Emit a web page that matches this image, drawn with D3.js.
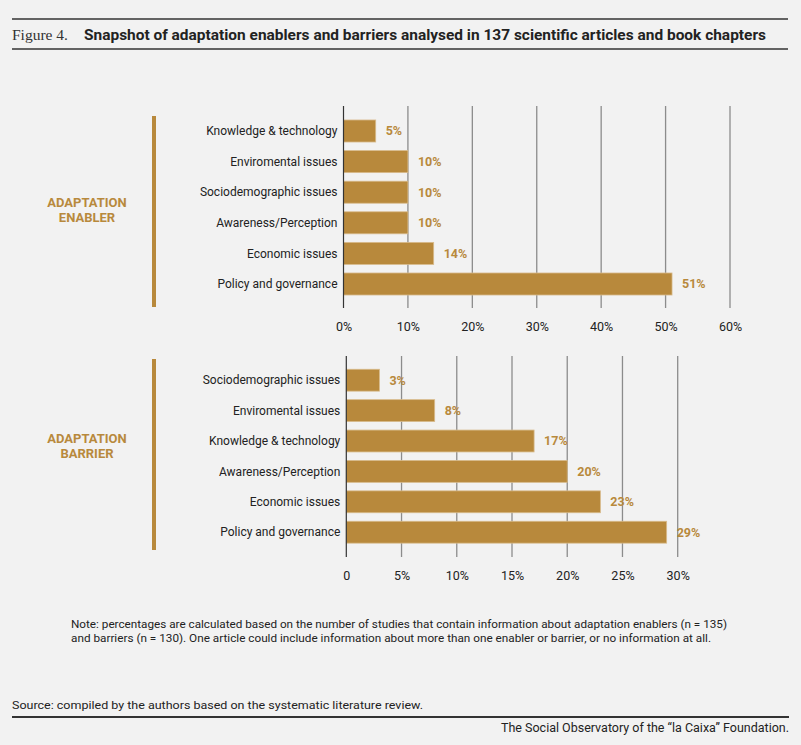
<!DOCTYPE html>
<html>
<head>
<meta charset="utf-8">
<script src="https://cdn.jsdelivr.net/npm/d3@7"></script>
<style>
  body { margin: 0; background: #f2f2f2; }
  svg { display: block; }
  text { font-family: Roboto, "Liberation Sans", sans-serif; }
</style>
</head>
<body>
<svg width="801" height="745"></svg>
<script>
// enablers (n = 135)
const enablerCategories = ['Knowledge & technology', 'Enviromental issues', 'Sociodemographic issues',
  'Awareness/Perception', 'Economic issues', 'Policy and governance'];
const enablerValues = [5, 10, 10, 10, 14, 51];
const enablerTicks = [0, 10, 20, 30, 40, 50, 60];

// barriers (n = 130)
const barrierCategories = ['Sociodemographic issues', 'Enviromental issues', 'Knowledge & technology',
  'Awareness/Perception', 'Economic issues', 'Policy and governance'];
const barrierValues = [3, 8, 17, 20, 23, 29];
const barrierTicks = [0, 5, 10, 15, 20, 25, 30];

const gold = '#b8893c';
const ink = '#222';

const svg = d3.select('svg');
const width = +svg.attr('width');

svg.append('rect').attr('width', width).attr('height', 745).attr('fill', '#f2f2f2');

// header
svg.append('line').attr('x1', 12).attr('x2', 788).attr('y1', 19).attr('y2', 19)
  .attr('stroke', '#333').attr('stroke-width', 1.6);
svg.append('line').attr('x1', 12).attr('x2', 788).attr('y1', 49).attr('y2', 49)
  .attr('stroke', '#333').attr('stroke-width', 1.6);
svg.append('text').attr('x', 12).attr('y', 40)
  .style('font-family', '"Liberation Serif", "DejaVu Serif", serif')
  .attr('font-size', 15).attr('fill', '#333')
  .attr('textLength', 56).attr('lengthAdjust', 'spacingAndGlyphs')
  .text('Figure 4.');
svg.append('text').attr('x', 84).attr('y', 40)
  .attr('font-size', 14).attr('font-weight', 'bold').attr('fill', ink)
  .attr('textLength', 682).attr('lengthAdjust', 'spacingAndGlyphs')
  .text('Snapshot of adaptation enablers and barriers analysed in 137 scientific articles and book chapters');

function drawPanel(opts) {
  const { categories, values, ticks, x0, x1, y0, y1, gridTop, gridBottom, fmt, title, sideBar, titleY } = opts;

  const x = d3.scaleLinear().domain([0, d3.max(ticks)]).range([x0, x1]);
  const y = d3.scaleBand().domain(categories).range([y0, y1])
    .paddingInner(0.28).paddingOuter(0.14);

  const g = svg.append('g');

  // gridlines
  g.selectAll('line.grid')
    .data(ticks.slice(1))
    .join('line')
    .attr('class', 'grid')
    .attr('x1', d => x(d)).attr('x2', d => x(d))
    .attr('y1', gridTop).attr('y2', gridBottom)
    .attr('stroke', '#8c8c8c').attr('stroke-width', 1.3);

  // bars
  g.selectAll('rect.bar')
    .data(values)
    .join('rect')
    .attr('class', 'bar')
    .attr('x', x(0))
    .attr('y', (d, i) => y(categories[i]))
    .attr('width', d => x(d) - x(0))
    .attr('height', y.bandwidth())
    .attr('fill', gold)
    .attr('stroke', '#d8bb8c').attr('stroke-width', 0.8);

  // zero axis
  g.append('line')
    .attr('x1', x(0)).attr('x2', x(0))
    .attr('y1', gridTop).attr('y2', gridBottom)
    .attr('stroke', '#333').attr('stroke-width', 1.2);

  // value labels
  g.selectAll('text.val')
    .data(values)
    .join('text')
    .attr('class', 'val')
    .attr('x', d => x(d) + 10)
    .attr('y', (d, i) => y(categories[i]) + y.bandwidth() / 2)
    .attr('dy', '0.35em')
    .attr('font-size', 12.5).attr('font-weight', 'bold')
    .attr('fill', gold)
    .text(d => d + '%');

  // category labels
  g.selectAll('text.cat')
    .data(categories)
    .join('text')
    .attr('class', 'cat')
    .attr('x', x(0) - 6)
    .attr('y', d => y(d) + y.bandwidth() / 2)
    .attr('dy', '0.35em')
    .attr('text-anchor', 'end')
    .attr('font-size', 12).attr('fill', ink)
    .text(d => d);

  // tick labels
  const axis = d3.axisBottom(x).tickValues(ticks).tickSize(0).tickPadding(0).tickFormat(fmt);
  const ax = g.append('g')
    .attr('transform', `translate(0,${gridBottom + 14})`)
    .call(axis);
  ax.select('.domain').remove();
  ax.selectAll('text')
    .attr('font-size', 12.5).attr('fill', ink)
    .style('font-family', 'Roboto, "Liberation Sans", sans-serif');

  // side marker
  g.append('rect')
    .attr('x', 152).attr('y', sideBar[0])
    .attr('width', 4).attr('height', sideBar[1] - sideBar[0])
    .attr('fill', gold);

  const t = g.append('text')
    .attr('x', 87).attr('y', titleY)
    .attr('text-anchor', 'middle')
    .attr('font-size', 13).attr('font-weight', 'bold')
    .attr('fill', gold);
  title.forEach((line, i) => {
    t.append('tspan').attr('x', 87).attr('dy', i === 0 ? 0 : 14.5).text(line);
  });
}

drawPanel({
  categories: enablerCategories,
  values: enablerValues,
  ticks: enablerTicks,
  x0: 343.5, x1: 730,
  y0: 115.7, y1: 299.3,
  gridTop: 106, gridBottom: 308,
  fmt: d => d + '%',
  title: ['ADAPTATION', 'ENABLER'],
  titleY: 207,
  sideBar: [116, 307]
});

drawPanel({
  categories: barrierCategories,
  values: barrierValues,
  ticks: barrierTicks,
  x0: 346.3, x1: 677.7,
  y0: 365, y1: 547.4,
  gridTop: 356, gridBottom: 557,
  fmt: d => d === 0 ? '0' : d + '%',
  title: ['ADAPTATION', 'BARRIER'],
  titleY: 443,
  sideBar: [359, 550]
});

// notes
svg.append('text').attr('x', 71).attr('y', 628)
  .attr('font-size', 11.5).attr('fill', ink)
  .attr('textLength', 656).attr('lengthAdjust', 'spacingAndGlyphs')
  .text('Note: percentages are calculated based on the number of studies that contain information about adaptation enablers (n = 135)');
svg.append('text').attr('x', 71).attr('y', 642)
  .attr('font-size', 11.5).attr('fill', ink)
  .attr('textLength', 640).attr('lengthAdjust', 'spacingAndGlyphs')
  .text('and barriers (n = 130). One article could include information about more than one enabler or barrier, or no information at all.');

svg.append('text').attr('x', 12).attr('y', 709)
  .attr('font-size', 11.5).attr('fill', ink)
  .attr('textLength', 411).attr('lengthAdjust', 'spacingAndGlyphs')
  .text('Source: compiled by the authors based on the systematic literature review.');
svg.append('line').attr('x1', 12).attr('x2', 789).attr('y1', 717).attr('y2', 717)
  .attr('stroke', '#333').attr('stroke-width', 2);
svg.append('text').attr('x', 789).attr('y', 732)
  .attr('text-anchor', 'end')
  .attr('font-size', 12).attr('fill', ink)
  .attr('textLength', 288).attr('lengthAdjust', 'spacingAndGlyphs')
  .text('The Social Observatory of the \u201cla Caixa\u201d Foundation.');
</script>
</body>
</html>
